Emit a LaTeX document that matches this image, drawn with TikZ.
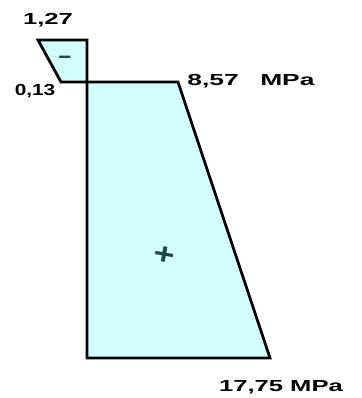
\documentclass[tikz,border=0pt]{standalone}
\usepackage{graphicx}
\usepackage{fontspec}
\setmainfont{Liberation Sans}
\definecolor{fillc}{HTML}{D2FCFC}
\definecolor{signc}{HTML}{1E4A44}
\begin{document}
\begin{tikzpicture}[x=1pt,y=-1pt,
  zone/.style={draw=black,fill=fillc,line width=2.8pt,line join=miter},
  lab/.style={font=\bfseries\fontsize{16}{16}\selectfont,inner sep=0pt},
  sign/.style={text=signc,font=\bfseries,inner sep=0pt}]
\useasboundingbox (0,0) rectangle (361,398);
\coordinate (a1) at (38,40);
\coordinate (a2) at (87,40);
\coordinate (a3) at (87,82);
\coordinate (a4) at (61,82);
\coordinate (b1) at (87,82);
\coordinate (b2) at (178,82);
\coordinate (b3) at (270,358);
\coordinate (b4) at (87,358);
\draw[zone] (a1) -- (a2) -- (a3) -- (a4) -- cycle;
\draw[zone] (b1) -- (b2) -- (b3) -- (b4) -- cycle;
\node[sign] (minus) at (65,59) {\scalebox{2.2}[1]{\fontsize{20}{20}\selectfont -}};
\node[sign,rotate=-10] (plus) at (164,256) {\scalebox{1.2}[1]{\fontsize{30}{30}\selectfont +}};
\node[lab] (l1) at (48,20) {\scalebox{1.6}[1]{1,27}};
\node[lab] (l2) at (35,91) {\scalebox{1.3}[1]{0,13}};
\node[lab] (l3) at (251,81) {\scalebox{1.65}[1]{8,57\hspace{13pt}MPa}};
\node[lab] (l4) at (281,387) {\scalebox{1.6}[1]{17,75 MPa}};
\end{tikzpicture}
\end{document}
